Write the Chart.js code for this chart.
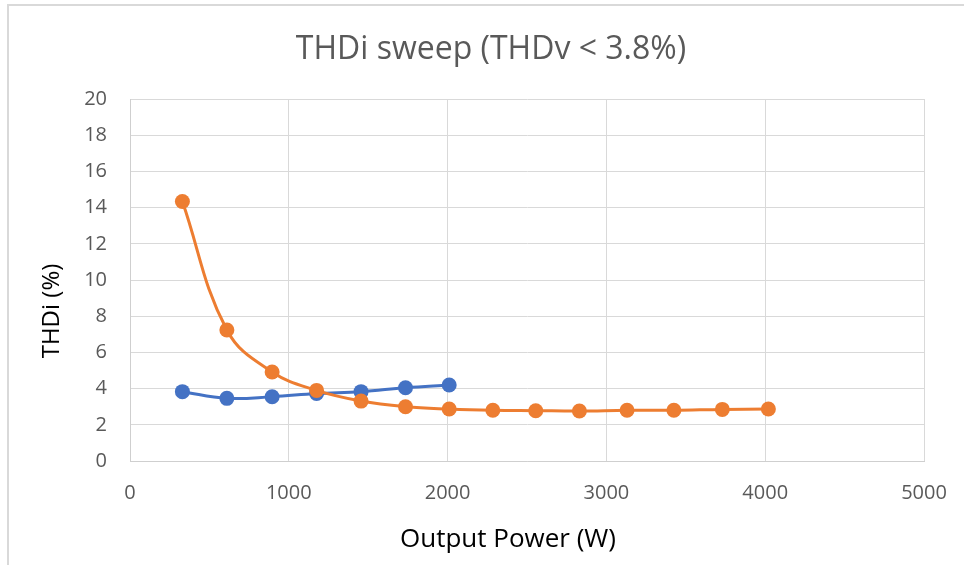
<!DOCTYPE html>
<html lang="en">
<head>
    <meta charset="UTF-8">
    <title>THDi sweep</title>
    <script src="https://cdn.jsdelivr.net/npm/chart.js"></script>
    <style>
        body { margin: 0; background: #fff; overflow: hidden; }
        .frame {
            position: absolute; left: 7px; top: 4px;
            width: 2000px; height: 2000px;
            border-left: 2px solid #d9d9d9; border-top: 2px solid #d9d9d9;
        }
        #chart { position: absolute; left: 0; top: 0; }
    </style>
</head>
<body>
    <div class="frame"></div>
    <canvas id="chart" width="964" height="565"></canvas>

    <script>
        // output power (W) for each measurement point
        const powerW = [330, 610, 895, 1175, 1455, 1735, 2010, 2285, 2555, 2830, 3130, 3425, 3730, 4020];
        // THDi (%) - blue series (7 points) and orange series (14 points)
        const thdiBlue = [3.83, 3.46, 3.55, 3.73, 3.83, 4.05, 4.20];
        const thdiOrange = [14.34, 7.24, 4.92, 3.90, 3.31, 3.00, 2.87, 2.80, 2.78, 2.76, 2.80, 2.80, 2.85, 2.87];
        const xTicks = [0, 1000, 2000, 3000, 4000, 5000];
        const yTicks = [0, 2, 4, 6, 8, 10, 12, 14, 16, 18, 20];

        const toPoints = (ys) => ys.map((y, i) => ({ x: powerW[i], y: y }));

        const FONT = '"Open Sans", "Liberation Sans", sans-serif';

        // axis titles drawn where Excel put them (not centred on the plot)
        const axisTitles = {
            id: 'axisTitles',
            afterDraw(chart) {
                const ctx = chart.ctx;
                ctx.save();
                ctx.fillStyle = '#000';
                ctx.textAlign = 'center';
                ctx.textBaseline = 'middle';
                ctx.font = '26px ' + FONT;
                ctx.fillText('Output Power (W)', 508, 540);
                ctx.translate(52, 311);
                ctx.rotate(-Math.PI / 2);
                ctx.font = '24px ' + FONT;
                ctx.fillText('THDi (%)', 0, 0);
                ctx.restore();
            }
        };

        const ctx = document.getElementById('chart').getContext('2d');
        new Chart(ctx, {
            type: 'scatter',
            data: {
                datasets: [{
                    label: 'Series1',
                    data: toPoints(thdiBlue),
                    showLine: true,
                    borderColor: '#4472C4',
                    backgroundColor: '#4472C4',
                    borderWidth: 3,
                    pointRadius: 7.5,
                    pointBorderWidth: 0,
                    tension: 0.4,
                    order: 2
                }, {
                    label: 'Series2',
                    data: toPoints(thdiOrange),
                    showLine: true,
                    borderColor: '#ED7D31',
                    backgroundColor: '#ED7D31',
                    borderWidth: 3,
                    pointRadius: 7.5,
                    pointBorderWidth: 0,
                    tension: 0.4,
                    order: 1
                }]
            },
            options: {
                responsive: false,
                animation: false,
                layout: { padding: { left: 58, right: 40, top: 0, bottom: 0 } },
                plugins: {
                    legend: { display: false },
                    tooltip: { enabled: false },
                    title: {
                        display: true,
                        text: 'THDi sweep (THDv < 3.8%)',
                        color: '#595959',
                        font: { family: FONT, size: 32, weight: 'normal', lineHeight: 1.2 },
                        padding: { top: 31, bottom: 29.6 }
                    }
                },
                scales: {
                    x: {
                        type: 'linear',
                        min: 0,
                        max: 5000,
                        afterBuildTicks: (axis) => { axis.ticks = xTicks.map(v => ({ value: v })); },
                        afterFit: (axis) => {
                            axis.height = 104;
                            // let the layout padding alone decide where the plot ends
                            axis.paddingLeft = 0;
                            axis.paddingRight = 0;
                        },
                        grid: { color: '#d9d9d9', lineWidth: 1, drawTicks: false },
                        border: { color: '#cfcfcf', width: 1 },
                        ticks: {
                            color: '#595959',
                            padding: 20,
                            maxRotation: 0,
                            font: { family: FONT, size: 20 },
                            callback: (v) => String(v)
                        }
                    },
                    y: {
                        min: 0,
                        max: 20,
                        afterBuildTicks: (axis) => { axis.ticks = yTicks.map(v => ({ value: v })); },
                        afterFit: (axis) => {
                            axis.width = 72;
                            axis.paddingTop = 0;
                            axis.paddingBottom = 0;
                        },
                        grid: { color: '#d9d9d9', lineWidth: 1, drawTicks: false },
                        border: { color: '#cfcfcf', width: 1 },
                        ticks: {
                            color: '#595959',
                            padding: 23,
                            font: { family: FONT, size: 20 },
                            callback: (v) => String(v)
                        }
                    }
                }
            },
            plugins: [axisTitles]
        });
    </script>
</body>
</html>
